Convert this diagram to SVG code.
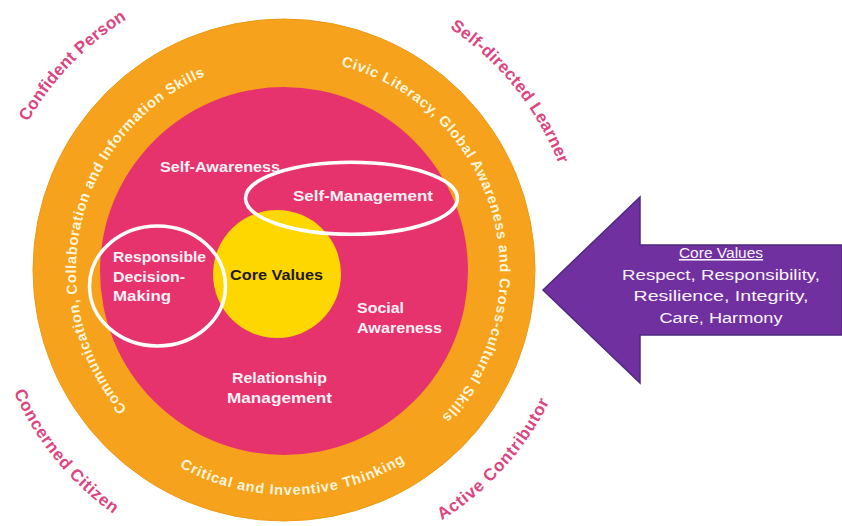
<svg xmlns="http://www.w3.org/2000/svg" width="842" height="526" viewBox="0 0 842 526">
<style>
.ring-t{font-family:"Liberation Sans",Arial,sans-serif;font-weight:bold;font-size:14.5px;fill:#FFF5DA}
.outer-t{font-family:"Liberation Sans",Arial,sans-serif;font-weight:bold;font-size:17px;fill:#DC4580}
.in-t{font-family:"Liberation Sans",Arial,sans-serif;font-weight:bold;font-size:15px;fill:#FFF0F5}
.core-t{font-family:"Liberation Sans",Arial,sans-serif;font-weight:bold;font-size:15px;fill:#1E1A10}
.arrow-t{font-family:"Liberation Sans",Arial,sans-serif;font-size:15.5px;fill:#FBF4FF;text-anchor:middle}
.ring-line{fill:none;stroke:#FFFFFF;stroke-width:3.5}
</style>
<defs>
<path id="p-comm" d="M127,409 A212,212 0 0 1 207.9,74.7"/>
<path id="p-civic" d="M341.1,65.8 A212,212 0 0 1 439.5,419.3"/>
<path id="p-crit" d="M179.7,467.1 A225,225 0 0 0 408.7,459.7"/>
<path id="p-conf" d="M27.9,122 A298,298 0 0 1 128.1,18.3"/>
<path id="p-self" d="M449.8,28.1 A293,293 0 0 1 559.5,166"/>
<path id="p-conc" d="M13.8,392.2 A298,298 0 0 0 115.1,515.1"/>
<path id="p-act" d="M441.8,520.3 A294,294 0 0 0 550.2,399.9"/>
</defs>
<rect width="842" height="526" fill="#FFFFFF"/>

<g id="outer-ring">
<circle cx="284" cy="270" r="251" fill="#F6A21C" stroke="#EE9A18" stroke-width="1"/>
<text class="ring-t"><textPath href="#p-comm" textLength="398" lengthAdjust="spacing">Communication, Collaboration and Information Skills</textPath></text>
<text class="ring-t"><textPath href="#p-civic" textLength="440" lengthAdjust="spacing">Civic Literacy, Global Awareness and Cross-cultural Skills</textPath></text>
<text class="ring-t"><textPath href="#p-crit" textLength="236" lengthAdjust="spacing">Critical and Inventive Thinking</textPath></text>
</g>

<g id="outcomes">
<text class="outer-t"><textPath href="#p-conf" textLength="144" lengthAdjust="spacing">Confident Person</textPath></text>
<text class="outer-t"><textPath href="#p-self" textLength="177" lengthAdjust="spacing">Self-directed Learner</textPath></text>
<text class="outer-t"><textPath href="#p-conc" textLength="159" lengthAdjust="spacing">Concerned Citizen</textPath></text>
<text class="outer-t"><textPath href="#p-act" textLength="162" lengthAdjust="spacing">Active Contributor</textPath></text>
</g>

<g id="social-emotional">
<circle cx="284" cy="271" r="184" fill="#E6336E"/>
<text class="in-t" x="160" y="172" textLength="120" lengthAdjust="spacingAndGlyphs">Self-Awareness</text>
<text class="in-t" x="357" y="313" textLength="47" lengthAdjust="spacingAndGlyphs">Social</text>
<text class="in-t" x="357" y="333" textLength="85" lengthAdjust="spacingAndGlyphs">Awareness</text>
<text class="in-t" x="232" y="383" textLength="95" lengthAdjust="spacingAndGlyphs">Relationship</text>
<text class="in-t" x="227" y="403" textLength="105" lengthAdjust="spacingAndGlyphs">Management</text>
</g>

<g id="core-values">
<circle cx="277" cy="274" r="64" fill="#FFD700"/>
<text class="core-t" x="230" y="280" textLength="93" lengthAdjust="spacingAndGlyphs">Core Values</text>
</g>

<g id="self-management">
<ellipse class="ring-line" cx="351.5" cy="198.3" rx="106" ry="36"/>
<text class="in-t" x="293" y="201" textLength="140" lengthAdjust="spacingAndGlyphs">Self-Management</text>
</g>

<g id="responsible-decision-making">
<ellipse class="ring-line" cx="157.5" cy="286" rx="68" ry="60"/>
<text class="in-t" x="113" y="262" textLength="93" lengthAdjust="spacingAndGlyphs">Responsible</text>
<text class="in-t" x="113" y="282" textLength="72" lengthAdjust="spacingAndGlyphs">Decision-</text>
<text class="in-t" x="113" y="301" textLength="58" lengthAdjust="spacingAndGlyphs">Making</text>
</g>

<g id="core-values-arrow">
<polygon points="543,290 640,197 640,245 842,245 842,335 640,335 640,383" fill="#7030A0" stroke="#4E2A7E" stroke-width="1.5"/>
<text class="arrow-t" x="721" y="258" text-decoration="underline">Core Values</text>
<text class="arrow-t" x="721" y="279.5" textLength="198" lengthAdjust="spacingAndGlyphs">Respect, Responsibility,</text>
<text class="arrow-t" x="721" y="301" textLength="175" lengthAdjust="spacingAndGlyphs">Resilience, Integrity,</text>
<text class="arrow-t" x="721" y="322.5" textLength="123" lengthAdjust="spacingAndGlyphs">Care, Harmony</text>
</g>

<g id="connectors"></g>
</svg>
